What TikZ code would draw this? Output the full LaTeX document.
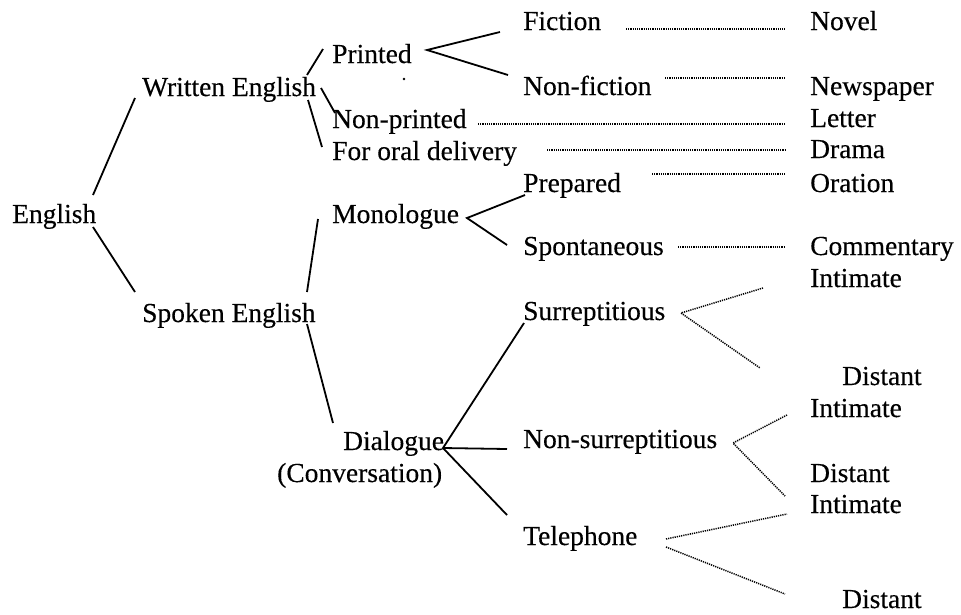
\documentclass[tikz,border=0pt]{standalone}
\usepackage{fontspec}
\setmainfont{Liberation Serif}[FakeBold=0.3]
\begin{document}
\begin{tikzpicture}[x=1pt,y=-1pt,
  lbl/.style={anchor=base west,inner sep=0pt,font=\fontsize{27.5}{30}\selectfont},
  branch/.style={line width=1.8pt},
  dots/.style={line width=1.5pt,dash pattern=on 1.2pt off 1pt}]
\useasboundingbox (0,0) rectangle (961,614);

% first level
\node[lbl] (eng) at (12,223) {English};
\node[lbl] (wri) at (142,96) {Written English};
\node[lbl] (spo) at (142,322) {Spoken English};

% written branch
\node[lbl] (pri) at (332,63) {Printed};
\node[lbl] (npr) at (332,128) {Non-printed};
\node[lbl] (ord) at (332,160) {For oral delivery};
\node[lbl] (fic) at (523,30) {Fiction};
\node[lbl] (nfi) at (523,95) {Non-fiction};

% spoken branch
\node[lbl] (mon) at (332,223) {Monologue};
\node[lbl] (pre) at (523,192) {Prepared};
\node[lbl] (spt) at (523,255) {Spontaneous};
\node[lbl] (dia) at (343,450) {Dialogue};
\node[lbl] (con) at (277,482) {(Conversation)};
\node[lbl] (sur) at (523,320) {Surreptitious};
\node[lbl] (nsu) at (523,448) {Non-surreptitious};
\node[lbl] (tel) at (523,545) {Telephone};

% right column
\node[lbl] (nov) at (810,30) {Novel};
\node[lbl] (new) at (810,95) {Newspaper};
\node[lbl] (let) at (810,127) {Letter};
\node[lbl] (dra) at (810,158) {Drama};
\node[lbl] (ora) at (810,192) {Oration};
\node[lbl] (com) at (810,255) {Commentary};
\node[lbl] (int1) at (810,287) {Intimate};
\node[lbl] (dis1) at (842,385) {Distant};
\node[lbl] (int2) at (810,417) {Intimate};
\node[lbl] (dis2) at (810,482) {Distant};
\node[lbl] (int3) at (810,513) {Intimate};
\node[lbl] (dis3) at (842,608) {Distant};

% end points of the solid branches
\coordinate (engU) at (93,195);   \coordinate (wriL) at (135,98);
\coordinate (engD) at (93,227);   \coordinate (spoL) at (135,292);
\coordinate (wriA) at (307,75);   \coordinate (priL) at (323,49);
\coordinate (wriB) at (321,88);   \coordinate (nprL) at (335,113);
\coordinate (wriC) at (308,100);  \coordinate (ordL) at (322,147);
\coordinate (spoA) at (307,292);  \coordinate (monL) at (318,219);
\coordinate (spoB) at (307,324);  \coordinate (diaL) at (333,423);
\coordinate (priR) at (427,50);   \coordinate (ficL) at (500,32);
                                  \coordinate (nfiL) at (508,75);
\coordinate (monR) at (467,218);  \coordinate (preL) at (525,195);
                                  \coordinate (sptL) at (507,245);
\coordinate (diaR) at (443,448);  \coordinate (surL) at (524,323);
                                  \coordinate (nsuL) at (507,449);
                                  \coordinate (telL) at (507,515);

\draw[branch] (engU) -- (wriL);
\draw[branch] (engD) -- (spoL);
\draw[branch] (wriA) -- (priL);
\draw[branch] (wriB) -- (nprL);
\draw[branch] (wriC) -- (ordL);
\draw[branch] (spoA) -- (monL);
\draw[branch] (spoB) -- (diaL);
\draw[branch] (ficL) -- (priR) -- (nfiL);
\draw[branch] (preL) -- (monR) -- (sptL);
\draw[branch] (surL) -- (diaR) -- (telL);
\draw[branch] (diaR) -- (nsuL);

% dotted leaders to the right column
\coordinate (ficR) at (626,29);   \coordinate (novL) at (785,29);
\coordinate (nfiR) at (665,78);   \coordinate (newL) at (785,78);
\coordinate (nprR) at (478,124);  \coordinate (letL) at (785,124);
\coordinate (ordR) at (547,150);  \coordinate (draL) at (785,150);
\coordinate (preR) at (652,174);  \coordinate (oraL) at (785,174);
\coordinate (sptR) at (678,247);  \coordinate (comL) at (785,247);
\draw[dots] (ficR) -- (novL);
\draw[dots] (nfiR) -- (newL);
\draw[dots] (nprR) -- (letL);
\draw[dots] (ordR) -- (draL);
\draw[dots] (preR) -- (oraL);
\draw[dots] (sptR) -- (comL);

% dotted forks
\coordinate (surR) at (681,313);  \coordinate (int1L) at (763,288);
                                  \coordinate (dis1L) at (760,368);
\coordinate (nsuR) at (733,443);  \coordinate (int2L) at (787,415);
                                  \coordinate (dis2L) at (785,496);
\coordinate (telRa) at (666,539); \coordinate (int3L) at (787,514);
\coordinate (telRb) at (666,547); \coordinate (dis3L) at (785,594);
\draw[dots] (int1L) -- (surR) -- (dis1L);
\draw[dots] (int2L) -- (nsuR) -- (dis2L);
\draw[dots] (telRa) -- (int3L);
\draw[dots] (telRb) -- (dis3L);

% small speck below the printed fork
\fill (404,79) circle (1.3pt);
\end{tikzpicture}
\end{document}
